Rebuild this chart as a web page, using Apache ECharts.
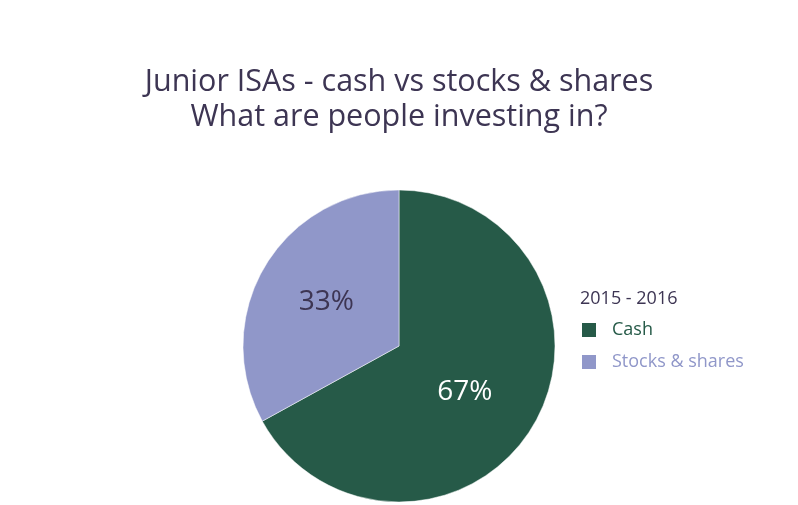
<!DOCTYPE html>
<html><head><meta charset="utf-8">
<script src="https://cdn.jsdelivr.net/npm/echarts@6/dist/echarts.min.js"></script>
<style>html,body{margin:0;padding:0;background:#fff}#c{width:798px;height:505px}</style>
</head><body><div id="c"></div>
<script>
var categories = ['Cash', 'Stocks & shares'];
var values = [67, 33];
var colors = ['#265a48', '#9097c9'];
var legendTitle = '2015 - 2016';
var font = 'Open Sans';
var labelColors = ['#ffffff', '#3d3553'];
var labelShift = [[-4, 5], [-3, -3]];
var chart = echarts.init(document.getElementById('c'));
chart.setOption({
  animation: false,
  title: [{
    text: 'Junior ISAs - cash vs stocks & shares\nWhat are people investing in?',
    left: 'center', top: 60,
    textStyle: {color: '#3d3553', fontFamily: font, fontWeight: 'normal', fontSize: 30.5, lineHeight: 35}
  }, {
    text: legendTitle, left: 575, top: 285,
    textStyle: {color: '#3d3553', fontFamily: font, fontWeight: 'normal', fontSize: 18}
  }],
  legend: {
    orient: 'vertical', left: 575, top: 316, itemGap: 14,
    itemWidth: 16, itemHeight: 16, icon: 'rect',
    data: categories.map(function(c, i){ return {name: c, textStyle: {color: colors[i]}}; }),
    textStyle: {fontFamily: font, fontSize: 18, padding: [0,0,0,10]}
  },
  series: [{
    type: 'pie', center: [399, 346], radius: 156, startAngle: 90, clockwise: true,
    data: categories.map(function(c, i){ return {name: c, value: values[i], itemStyle: {color: colors[i]},
      label: {color: labelColors[i], offset: labelShift[i]}}; }),
    itemStyle: {borderColor: '#ffffff', borderWidth: 0.5},
    label: {show: true, position: 'inside', formatter: '{c}%', fontFamily: font, fontSize: 28},
    labelLine: {show: false}
  }]
});
</script></body></html>
